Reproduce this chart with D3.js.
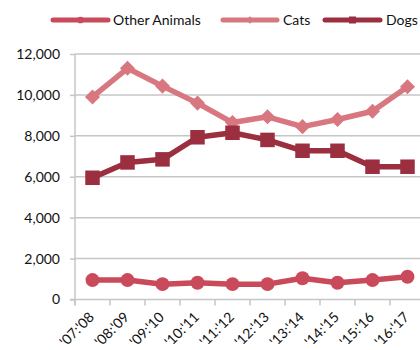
<!DOCTYPE html>
<html>
<head>
<meta charset="utf-8">
<script src="https://cdn.jsdelivr.net/npm/d3@7"></script>
<style>
  html, body { margin: 0; padding: 0; background: #fff; }
  svg { display: block; font-family: Lato, "Open Sans", sans-serif; }
</style>
</head>
<body>
<svg id="chart" width="420" height="350"></svg>
<script>
// Seasons on the x axis
const seasons = ["'07:'08", "'08:'09", "'09:'10", "'10:'11", "'11:'12", "'12:'13", "'13:'14", "'14:'15", "'15:'16", "'16:'17"];

// Counts per season
const otherAnimals = [950, 950, 750, 820, 750, 750, 1040, 820, 950, 1110];
const cats = [9900, 11300, 10430, 9600, 8650, 8930, 8450, 8800, 9200, 10400];
const dogs = [5950, 6700, 6850, 7930, 8150, 7800, 7270, 7270, 6490, 6490];

const yTicks = [0, 2000, 4000, 6000, 8000, 10000, 12000];

const series = [
  { name: "Other Animals", values: otherAnimals, color: "#c94a5a", marker: "circle" },
  { name: "Cats", values: cats, color: "#d8777f", marker: "diamond" },
  { name: "Dogs", values: dogs, color: "#9b2f3f", marker: "square" }
];

const svg = d3.select("#chart");
const plotLeft = 75, plotTop = 54, plotBottom = 299.5;
const step = 35;

const x = d3.scaleBand().domain(seasons).range([plotLeft, plotLeft + step * seasons.length]);
const y = d3.scaleLinear().domain([0, 12000]).range([plotBottom, plotTop]);

const gridColor = "#c6c6c6";

// Horizontal gridlines
svg.append("g")
  .selectAll("line")
  .data(yTicks.filter(d => d > 0))
  .join("line")
  .attr("x1", plotLeft).attr("x2", 420)
  .attr("y1", d => y(d)).attr("y2", d => y(d))
  .attr("stroke", gridColor).attr("stroke-width", 1.5);

// Y axis
const yAxis = svg.append("g")
  .attr("transform", `translate(${plotLeft},0)`)
  .call(d3.axisLeft(y).tickValues(yTicks).tickSize(5).tickPadding(10).tickFormat(d3.format(",")));
yAxis.select(".domain").attr("stroke", gridColor).attr("stroke-width", 1.5)
  .attr("d", `M0,${plotTop}V${plotBottom + 6}`);
yAxis.selectAll(".tick line").attr("stroke", gridColor).attr("stroke-width", 1.5);
yAxis.selectAll(".tick text").attr("fill", "#111").attr("font-size", 14)
  .attr("font-family", "Lato, sans-serif");

// X axis: ticks at category boundaries
const xAxis = svg.append("g").attr("transform", `translate(0,${plotBottom})`);
xAxis.append("line")
  .attr("x1", plotLeft - 5).attr("x2", 420)
  .attr("stroke", gridColor).attr("stroke-width", 1.5);
xAxis.selectAll("line.tick")
  .data(seasons)
  .join("line")
  .attr("class", "tick")
  .attr("x1", d => x(d)).attr("x2", d => x(d))
  .attr("y1", 0).attr("y2", 6)
  .attr("stroke", gridColor).attr("stroke-width", 1.5);
xAxis.selectAll("text")
  .data(seasons)
  .join("text")
  .attr("transform", d => `translate(${x(d) + x.bandwidth() / 2 - 1},${15}) rotate(-45)`)
  .attr("text-anchor", "end")
  .attr("dy", "0.35em")
  .attr("font-size", 14)
  .attr("fill", "#111")
  .text(d => d);

// Marker shapes
function drawMarker(g, type, cx, cy, color, s) {
  if (type === "circle") {
    g.append("circle").attr("cx", cx).attr("cy", cy).attr("r", s * 0.48).attr("fill", color);
  } else if (type === "diamond") {
    const r = s * 0.52;
    g.append("path")
      .attr("d", `M${cx},${cy - r}L${cx + r},${cy}L${cx},${cy + r}L${cx - r},${cy}Z`)
      .attr("fill", color);
  } else {
    g.append("rect").attr("x", cx - s / 2).attr("y", cy - s / 2)
      .attr("width", s).attr("height", s).attr("fill", color);
  }
}

const line = d3.line()
  .x((d, i) => x(seasons[i]) + x.bandwidth() / 2)
  .y(d => y(d));

// Series lines and markers
series.forEach(s => {
  const g = svg.append("g");
  g.append("path")
    .attr("d", line(s.values))
    .attr("fill", "none")
    .attr("stroke", s.color)
    .attr("stroke-width", 5.5)
    .attr("stroke-linejoin", "round");
  s.values.forEach((v, i) => {
    drawMarker(g, s.marker, x(seasons[i]) + x.bandwidth() / 2, y(v), s.color, 14.5);
  });
});

// Legend
const legendItems = [
  { x0: 53, x1: 108, tx: 113 },
  { x0: 223, x1: 277, tx: 283 },
  { x0: 325, x1: 380, tx: 386 }
];
const ly = 20;
series.forEach((s, i) => {
  const L = legendItems[i];
  const g = svg.append("g");
  g.append("line")
    .attr("x1", L.x0).attr("x2", L.x1).attr("y1", ly).attr("y2", ly)
    .attr("stroke", s.color).attr("stroke-width", 5).attr("stroke-linecap", "round");
  drawMarker(g, s.marker, (L.x0 + L.x1) / 2, ly, s.color, 7);
  g.append("text")
    .attr("x", L.tx).attr("y", ly).attr("dy", "0.35em")
    .attr("font-size", 14).attr("fill", "#111")
    .text(s.name);
});
</script>
</body>
</html>
